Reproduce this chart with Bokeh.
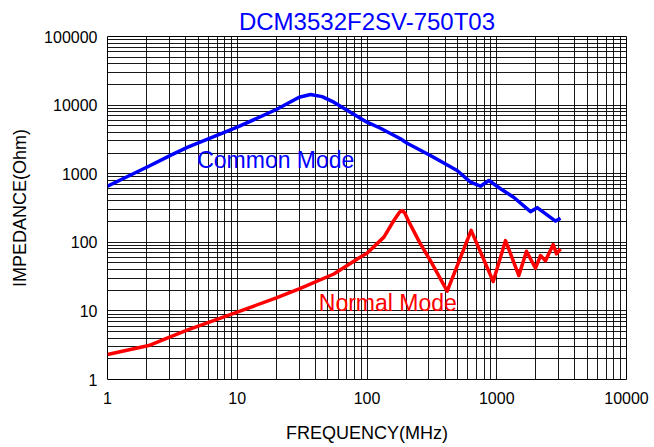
from bokeh.plotting import figure
from bokeh.models import FixedTicker, Label, Range1d
from bokeh.embed import file_html
from bokeh.resources import INLINE

# ---------------- data ----------------
title_text = "DCM3532F2SV-750T03"
x_label = "FREQUENCY(MHz)"
y_label = "IMPEDANCE(Ohm)"

x_ticks = [1, 10, 100, 1000, 10000]
x_tick_labels = ["1", "10", "100", "1000", "10000"]
y_ticks = [1, 10, 100, 1000, 10000, 100000]
y_tick_labels = ["1", "10", "100", "1000", "10000", "100000"]

# Common Mode impedance (blue)
cm_freq = [1, 2.08, 3.11, 4.16, 10, 20, 30, 36.7, 45, 55.5, 100, 127, 181, 204,
           308, 495, 628, 749, 870, 1069, 1350, 1820, 2050, 2837, 3100]
cm_imp = [657, 1286, 1885, 2437, 4760, 8630, 13000, 14280, 13300, 11030, 5630, 4600,
          3230, 2780, 1843, 1113, 752, 657, 795, 603, 454, 280, 320, 204, 225]

# Normal Mode impedance (red)
nm_freq = [1, 2.08, 3.11, 4.16, 10, 20, 30, 55.5, 89, 100, 135, 161, 178, 187, 196, 210,
           258, 308, 415, 635, 939, 1168, 1480, 1695, 1990, 2173, 2375, 2722, 2887, 3100]
nm_imp = [2.31, 3.13, 4.24, 5.3, 9.6, 15.5, 21, 34.5, 61, 69.3, 119, 208, 275, 291, 265, 200,
          95, 54, 19.4, 149, 26.8, 106, 32.8, 74, 41.9, 64, 54, 93, 68, 80]

cm_text = "Common Mode"
nm_text = "Normal Mode"

# minor tick positions (2..9 per decade)
x_minor = [k * 10 ** n for n in range(0, 4) for k in range(2, 10)]
y_minor = [k * 10 ** n for n in range(0, 5) for k in range(2, 10)]

FONT = "Liberation Sans"
BLUE = "#0000FF"
RED = "#FF0000"

p = figure(width=654, height=447, x_axis_type="log", y_axis_type="log",
           x_range=Range1d(1, 10000), y_range=Range1d(1, 100000),
           output_backend="svg", toolbar_location=None,
           min_border_left=107, min_border_right=28,
           min_border_top=36, min_border_bottom=68)

p.title.text = title_text
p.title.align = "center"
p.title.text_font = FONT
p.title.text_font_size = "24px"
p.title.text_font_style = "normal"
p.title.text_color = BLUE
p.title.standoff = 3

p.background_fill_color = "white"
p.border_fill_color = "white"
p.outline_line_color = "black"
p.outline_line_width = 1

for ax, ticks, labels, minor in ((p.xaxis, x_ticks, x_tick_labels, x_minor),
                                 (p.yaxis, y_ticks, y_tick_labels, y_minor)):
    ax.ticker = FixedTicker(ticks=ticks, minor_ticks=minor)
    ax.major_label_overrides = {t: l for t, l in zip(ticks, labels)}
    ax.major_tick_line_color = None
    ax.minor_tick_line_color = None
    ax.major_tick_out = 0
    ax.major_tick_in = 0
    ax.minor_tick_out = 0
    ax.minor_tick_in = 0
    ax.axis_line_color = None
    ax.major_label_text_font = FONT
    ax.major_label_text_font_size = "16px"
    ax.major_label_text_color = "black"
    ax.axis_label_text_font = FONT
    ax.axis_label_text_font_size = "18px"
    ax.axis_label_text_font_style = "normal"
    ax.axis_label_text_color = "black"

p.xaxis.axis_label = x_label
p.yaxis.axis_label = y_label
p.xaxis.major_label_standoff = 12
p.xaxis.axis_label_standoff = 16
p.yaxis.major_label_standoff = 10
p.yaxis.axis_label_standoff = 11

for g in (p.xgrid, p.ygrid):
    g.grid_line_color = "black"
    g.grid_line_width = 1
    g.grid_line_alpha = 0.9
    g.minor_grid_line_color = "black"
    g.minor_grid_line_width = 1
    g.minor_grid_line_alpha = 0.9

p.line(cm_freq, cm_imp, line_color=BLUE, line_width=3.5, line_join="round")
p.line(nm_freq, nm_imp, line_color=RED, line_width=3.5, line_join="round")

p.add_layout(Label(x=4.91, y=1600, text=cm_text, text_align="left",
                   text_baseline="alphabetic", text_font=FONT,
                   text_font_size="23px", text_color=BLUE))
p.add_layout(Label(x=42.5, y=13.0, text=nm_text, text_align="left",
                   text_baseline="alphabetic", text_font=FONT,
                   text_font_size="23px", text_color=RED))

open("out.html", "w").write(file_html(p, INLINE))
